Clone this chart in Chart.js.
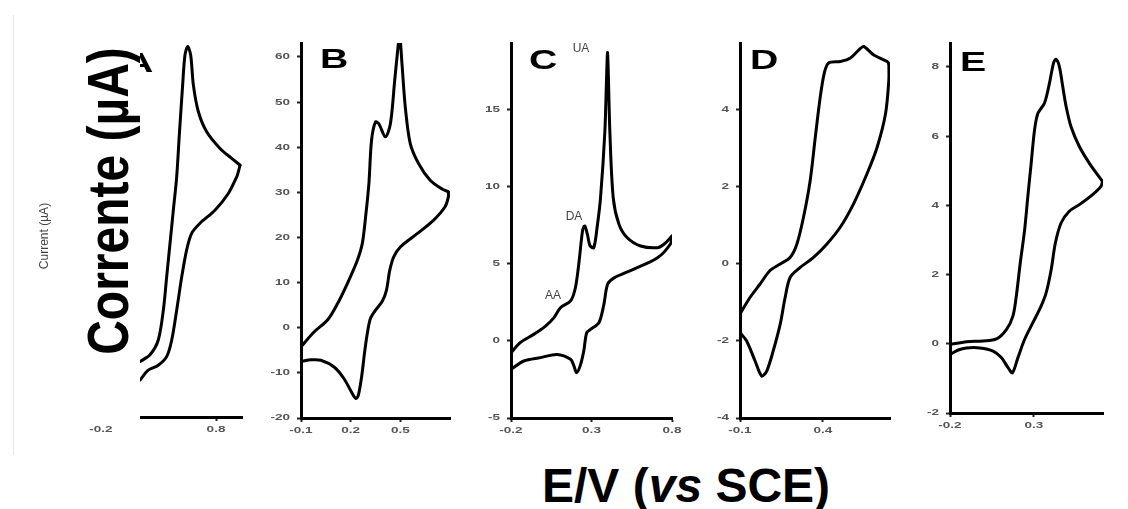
<!DOCTYPE html>
<html>
<head>
<meta charset="utf-8">
<script src="https://cdn.jsdelivr.net/npm/chart.js@4.4.1/dist/chart.umd.min.js"></script>
<style>
  html, body { margin:0; padding:0; background:#fff; }
  body { width:1128px; height:509px; overflow:hidden; position:relative; font-family:"Liberation Sans", Arial, sans-serif; }
  canvas { position:absolute; }
  .txt { position:absolute; white-space:nowrap; }
  .letter { font-weight:bold; font-size:28px; line-height:28px; transform-origin:0 0; transform:scaleX(1.4); color:#000; }
  .peak { font-size:12px; line-height:12px; color:#444; transform:translate(-50%,-50%); }
</style>
</head>
<body>
<script>
// ---------------- DATA (E in V, current in µA) ----------------
// Panel A
const A_forward = [[0.139,-7.7],[0.226,-6.2],[0.298,-2.9],[0.342,3.7],[0.371,11.1],[0.40,18.5],[0.429,25.9],[0.458,33.3],[0.481,42.6],[0.51,53.7],[0.53,60.3],[0.554,62.2],[0.58,60.3],[0.603,53.7],[0.646,47.8],[0.719,43.3],[0.835,39.6],[0.936,37.4],[1.009,35.9]];
const A_reverse = [[1.009,35.9],[0.994,34.4],[0.98,33.3],[0.907,29.6],[0.791,25.9],[0.661,23.0],[0.589,20.8],[0.545,17.1],[0.502,11.1],[0.458,3.7],[0.415,-2.9],[0.371,-6.6],[0.298,-8.5],[0.211,-9.6],[0.139,-11.8]];
const A_xTicks = [-0.2, 0.8];
const A_yTicks = [];
// Panel B
const B_forward = [[-0.09,-3.8],[-0.02,-0.9],[0.06,1.7],[0.12,5.3],[0.18,9.8],[0.24,14.9],[0.27,18.6],[0.29,24.5],[0.31,31.9],[0.326,41.5],[0.35,45.6],[0.37,45.2],[0.41,42.3],[0.44,45.2],[0.466,54.8],[0.486,62.2],[0.496,65.0],[0.51,58.5],[0.53,48.9],[0.56,40.8],[0.61,36.4],[0.68,32.7],[0.75,30.8],[0.79,30.1]];
const B_reverse = [[0.79,30.1],[0.79,29.0],[0.77,26.8],[0.70,23.8],[0.60,20.8],[0.50,17.9],[0.46,15.7],[0.436,12.7],[0.416,8.3],[0.39,5.8],[0.35,3.9],[0.32,2.1],[0.304,-0.5],[0.286,-4.9],[0.266,-10.9],[0.246,-15.0],[0.232,-15.7],[0.21,-14.6],[0.16,-11.3],[0.10,-8.7],[0.02,-7.2],[-0.04,-7.1],[-0.09,-7.4],[-0.1,-7.5]];
const B_xTicks = [-0.1, 0.2, 0.5];
const B_yTicks = [-20,-10,0,10,20,30,40,50,60];
// Panel C
const C_forward = [[-0.2,-0.76],[-0.142,-0.1],[-0.059,0.43],[0.014,0.97],[0.066,1.5],[0.107,2.16],[0.17,2.6],[0.2,3.46],[0.221,5.0],[0.245,7.2],[0.258,7.47],[0.275,6.9],[0.29,6.2],[0.314,6.06],[0.335,7.4],[0.356,9.3],[0.383,13.6],[0.393,16.9],[0.40,18.7],[0.414,13.6],[0.435,9.3],[0.47,7.6],[0.522,6.7],[0.605,6.17],[0.71,6.06],[0.75,6.28],[0.80,6.82]];
const C_reverse = [[0.80,6.82],[0.79,6.3],[0.71,5.4],[0.56,4.65],[0.44,4.1],[0.40,3.68],[0.377,2.38],[0.346,1.19],[0.294,0.76],[0.27,0.54],[0.252,-0.65],[0.23,-1.6],[0.207,-2.06],[0.19,-1.6],[0.17,-1.19],[0.086,-0.87],[-0.017,-1.08],[-0.12,-1.3],[-0.2,-1.84]];
const C_xTicks = [-0.2, 0.3, 0.8];
const C_yTicks = [-5, 0, 5, 10, 15];
// Panel D
const D_forward = [[-0.1,-1.3],[-0.04,-0.87],[0.021,-0.52],[0.081,-0.17],[0.142,0.0],[0.202,0.17],[0.243,0.52],[0.283,1.22],[0.323,2.17],[0.354,3.3],[0.384,4.35],[0.408,4.96],[0.434,5.22],[0.505,5.26],[0.565,5.35],[0.626,5.6],[0.646,5.65],[0.706,5.43],[0.787,5.26],[0.797,5.2]];
const D_reverse = [[0.797,5.2],[0.797,4.78],[0.777,3.9],[0.727,3.04],[0.666,2.35],[0.585,1.57],[0.505,0.96],[0.424,0.52],[0.343,0.17],[0.263,-0.09],[0.202,-0.35],[0.172,-0.87],[0.142,-1.57],[0.10,-2.26],[0.061,-2.78],[0.031,-2.91],[-0.009,-2.52],[-0.06,-2.0],[-0.1,-1.78]];
const D_xTicks = [-0.1, 0.4];
const D_yTicks = [-4, -2, 0, 2, 4];
// Panel E
const E_forward = [[-0.2,-0.02],[-0.101,0.06],[-0.002,0.08],[0.077,0.14],[0.136,0.41],[0.175,0.80],[0.195,1.37],[0.219,2.34],[0.245,3.30],[0.264,4.26],[0.284,5.22],[0.304,6.18],[0.324,6.66],[0.363,6.95],[0.393,7.53],[0.417,8.11],[0.432,8.22],[0.452,8.01],[0.472,7.43],[0.492,6.86],[0.521,6.28],[0.571,5.70],[0.63,5.22],[0.68,4.88],[0.709,4.69]];
const E_reverse = [[0.709,4.69],[0.70,4.55],[0.65,4.31],[0.571,4.02],[0.511,3.83],[0.462,3.49],[0.428,2.91],[0.403,2.14],[0.373,1.47],[0.343,1.09],[0.294,0.61],[0.245,0.13],[0.205,-0.40],[0.172,-0.84],[0.146,-0.69],[0.106,-0.40],[0.057,-0.21],[-0.022,-0.12],[-0.101,-0.12],[-0.151,-0.18],[-0.2,-0.31]];
const E_xTicks = [-0.2, 0.3];
const E_yTicks = [-2, 0, 2, 4, 6, 8];

const panelLetters = ['A','B','C','D','E'];
const peakLabels = ['UA','DA','AA'];
const yTitleBig = 'Corrente (µA)';
const yTitleSmall = 'Current (µA)';
const xTitleParts = ['E/V (', 'vs', ' SCE)'];

// ---------------- LAYOUT ----------------
const PADL = 60, PADT = 12, PADR = 12, PADB = 30;
const panels = [
  {fwd:A_forward, rev:A_reverse, xt:A_xTicks, yt:A_yTicks, x:[-0.2,1.026], y:[-20,63],   box:[101,43,242,417]},
  {fwd:B_forward, rev:B_reverse, xt:B_xTicks, yt:B_yTicks, x:[-0.1,0.8],   y:[-20,63.1], box:[301,43,450,418]},
  {fwd:C_forward, rev:C_reverse, xt:C_xTicks, yt:C_yTicks, x:[-0.2,0.8],   y:[-5,19.35], box:[511,43,672,418]},
  {fwd:D_forward, rev:D_reverse, xt:D_xTicks, yt:D_yTicks, x:[-0.1,0.804], y:[-4,5.74],  box:[740,43,890,418]},
  {fwd:E_forward, rev:E_reverse, xt:E_xTicks, yt:E_yTicks, x:[-0.2,0.712], y:[-2,8.69],  box:[950,43,1103,413]}
];

const toPts = arr => arr.map(p => ({x:p[0], y:p[1]}));

// Tick labels in the original are drawn wide (horizontally stretched); draw them from the scales with a stretch.
const stretchedTicks = {
  id:'stretchedTicks',
  afterDraw(chart){
    const ctx = chart.ctx, xs = chart.scales.x, ys = chart.scales.y;
    ctx.save();
    ctx.fillStyle = '#555';
    ctx.font = 'bold 9px "Liberation Sans", Arial, sans-serif';
    ctx.textBaseline = 'middle';
    xs.ticks.forEach(t => {
      const px = xs.getPixelForValue(t.value);
      ctx.save(); ctx.translate(px, xs.top + 13); ctx.scale(1.5, 1);
      ctx.textAlign = 'center'; ctx.fillText(Number(t.value).toFixed(1), 0, 0); ctx.restore();
    });
    ys.ticks.forEach(t => {
      const py = ys.getPixelForValue(t.value);
      ctx.save(); ctx.translate(ys.right - 11, py); ctx.scale(1.5, 1);
      ctx.textAlign = 'right'; ctx.fillText(String(t.value), 0, 0); ctx.restore();
    });
    ctx.restore();
  }
};

panels.forEach(p => {
  const [l,t,r,b] = p.box;
  const c = document.createElement('canvas');
  const w = (r-l)+PADL+PADR, h = (b-t)+PADT+PADB;
  c.width = w; c.height = h;
  c.style.width = w+'px'; c.style.height = h+'px';
  c.style.left = (l-PADL)+'px'; c.style.top = (t-PADT)+'px';
  document.body.appendChild(c);
  const ds = arr => ({data:toPts(arr), showLine:true, borderColor:'#000', borderWidth:3, pointRadius:0, tension:0.3, fill:false, borderCapStyle:'round', borderJoinStyle:'round'});
  const common = {
    grid:{display:true, drawOnChartArea:false, drawTicks:true, tickLength:4, tickColor:'#222', tickWidth:2},
    border:{display:true, color:'#000', width:3}
  };
  const hiddenTickFont = {family:'"Liberation Sans", Arial, sans-serif', size:9};
  new Chart(c, {
    type:'scatter',
    data:{datasets:[ds(p.fwd), ds(p.rev)]},
    plugins:[stretchedTicks],
    options:{
      responsive:false, animation:false, devicePixelRatio:1,
      layout:{padding:{left:0, top:PADT, right:PADR, bottom:0}},
      plugins:{legend:{display:false}, tooltip:{enabled:false}},
      scales:{
        x:Object.assign({type:'linear', min:p.x[0], max:p.x[1],
          afterFit:s=>{s.height=PADB;},
          afterBuildTicks:s=>{s.ticks=p.xt.map(v=>({value:v}));},
          ticks:{font:hiddenTickFont, color:'rgba(0,0,0,0)', padding:3, maxRotation:0, minRotation:0, autoSkip:false, callback:v=>Number(v).toFixed(1)}
        }, common),
        y:Object.assign({type:'linear', min:p.y[0], max:p.y[1],
          afterFit:s=>{s.width=PADL;},
          afterBuildTicks:s=>{s.ticks=p.yt.map(v=>({value:v}));},
          ticks:{font:hiddenTickFont, color:'rgba(0,0,0,0)', padding:4, autoSkip:false, callback:v=>String(v)}
        }, common)
      }
    }
  });
});

function addText(html, cls, style){
  const d = document.createElement('div');
  d.className = 'txt ' + cls;
  d.innerHTML = html;
  Object.assign(d.style, style);
  document.body.appendChild(d);
  return d;
}
// panel letters
const letterPos = [[125,49],[320,44.5],[528.5,46.3],[750,46.3],[960,48.3]];
panelLetters.forEach((L,i)=>addText(L,'letter',{left:letterPos[i][0]+'px', top:letterPos[i][1]+'px'}));
// peak labels in C
const peakPos = [[581,48],[574,216],[553,295]];
peakLabels.forEach((L,i)=>addText(L,'peak',{left:peakPos[i][0]+'px', top:peakPos[i][1]+'px'}));
// white cover over panel A axis
addText('','',{left:'56px', top:'20px', width:'84px', height:'401px', background:'#fff'});
// faint border line
addText('','',{left:'13px', top:'15px', width:'1px', height:'440px', background:'#e6e6e6'});
// small original axis title
addText(yTitleSmall,'',{left:'44px', top:'236px', fontSize:'12px', lineHeight:'12px', color:'#444', transform:'translate(-50%,-50%) rotate(-90deg)'});
// big y title
addText(yTitleBig,'',{left:'109px', top:'201px', fontSize:'48px', lineHeight:'48px', fontWeight:'bold', color:'#000', transform:'translate(-50%,-50%) rotate(-90deg) scaleY(1.2)'});
// big x title
addText(xTitleParts[0]+'<i>'+xTitleParts[1]+'</i>'+xTitleParts[2],'',{left:'542px', top:'462px', fontSize:'48px', lineHeight:'48px', fontWeight:'bold', color:'#000'});
</script>
</body>
</html>
